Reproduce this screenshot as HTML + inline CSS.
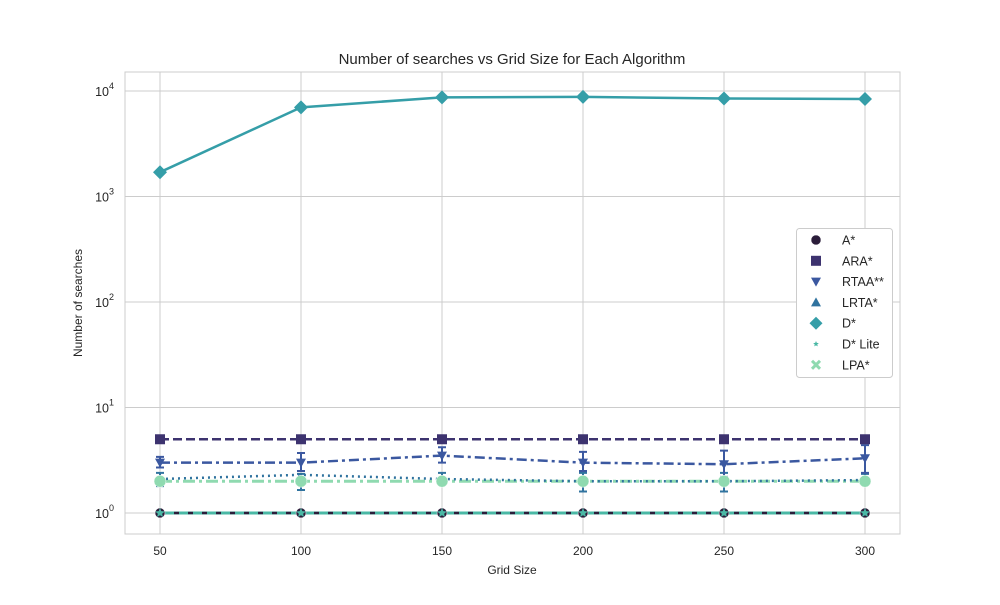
<!DOCTYPE html>
<html><head><meta charset="utf-8"><style>
body{margin:0;background:#fff;font-family:"Liberation Sans","DejaVu Sans",sans-serif}
svg text{font-family:"Liberation Sans","DejaVu Sans",sans-serif;fill:#262626}
</style></head><body>
<svg id="c" width="1000" height="600"></svg>
<script>
const gridSizes=[50,100,150,200,250,300];
const seriesNames=["A*","ARA*","RTAA**","LRTA*","D*","D* Lite","LPA*"];
const aStar=[1,1,1,1,1,1];
const araStar=[5,5,5,5,5,5];
const rtaa=[3,3,3.5,3,2.9,3.3];
const rtaaLo=[2.7,2.5,3.0,2.5,2.2,2.4];
const rtaaHi=[3.4,3.7,4.2,3.8,3.9,4.4];
const lrta=[2.1,2.3,2.1,2.0,2.0,2.05];
const lrtaLo=[1.8,1.65,1.85,1.6,1.6,1.85];
const lrtaHi=[2.4,2.35,2.4,2.4,2.4,2.35];
const dStar=[1700,7000,8700,8800,8500,8400];
const dLite=[1,1,1,1,1,1];
const lpa=[2,2,2,2,2,2];
const yTicks=[1,10,100,1000,10000];
const yTickLabels=["0","1","2","3","4"];

const svg=document.getElementById('c');
const NS='http://www.w3.org/2000/svg';
function mk(t,a,p){const e=document.createElementNS(NS,t);for(const k in a)e.setAttribute(k,a[k]);(p||svg).appendChild(e);return e;}
const L=125,R=900,T=72,B=534;
const xs=v=>160+(v-50)*(705/250);
const ys=v=>513-Math.log10(v)*105.5;

mk('rect',{x:L,y:T,width:R-L,height:B-T,fill:'#fff',stroke:'#ccc','stroke-width':1});
for(const v of gridSizes){
 const g=mk('line',{x1:xs(v),x2:xs(v),y1:T,y2:B,stroke:'#ccc','stroke-width':1});
 
 
 const t=mk('text',{x:xs(v),y:555,'text-anchor':'middle','font-size':12});t.textContent=v;
 
 
}
yTicks.forEach((v,i)=>{
 const g=mk('line',{x1:L,x2:R,y1:ys(v),y2:ys(v),stroke:'#ccc','stroke-width':1});
 
 
 const t=mk('text',{x:114,y:ys(v)+5,'text-anchor':'end','font-size':12.5});
 t.innerHTML='10<tspan dy="-7" font-size="9">'+yTickLabels[i]+'</tspan>';
 
 
});
let t=mk('text',{x:512,y:64,'text-anchor':'middle','font-size':15});t.textContent='Number of searches vs Grid Size for Each Algorithm';

t=mk('text',{x:512,y:574,'text-anchor':'middle','font-size':12});t.textContent='Grid Size';

t=mk('text',{x:82,y:303,'text-anchor':'middle','font-size':12,transform:'rotate(-90 82 303)'});t.textContent='Number of searches';


function line(vals,color,dash,w,name){
 const p=mk('polyline',{points:vals.map((v,i)=>xs(gridSizes[i])+','+ys(v)).join(' '),fill:'none',stroke:color,'stroke-width':w,'stroke-dasharray':dash});
 
 
}
function errs(lo,hi,color,name){
 lo.forEach((l,i)=>{const x=xs(gridSizes[i]);
  const g=mk('path',{d:`M${x},${ys(l)}V${ys(hi[i])}M${x-4},${ys(l)}h8M${x-4},${ys(hi[i])}h8`,stroke:color,'stroke-width':2,fill:'none'});
  
  
 });
}
function starPath(x,y,s){let d='';for(let k=0;k<10;k++){const r=k%2?s*0.45:s;const a=-Math.PI/2+k*Math.PI/5;d+=(k?'L':'M')+(x+r*Math.cos(a)).toFixed(2)+','+(y+r*Math.sin(a)).toFixed(2);}return d+'Z';}
function marker(type,x,y,c,s){
 let e;
 if(type==='o')e=mk('circle',{cx:x,cy:y,r:s,fill:c,stroke:'#fff','stroke-width':0.5});
 else if(type==='s')e=mk('rect',{x:x-s,y:y-s,width:2*s,height:2*s,fill:c});
 else if(type==='v')e=mk('path',{d:`M${x-s},${y-s*0.8}L${x+s},${y-s*0.8}L${x},${y+s}Z`,fill:c});
 else if(type==='^')e=mk('path',{d:`M${x-s},${y+s*0.8}L${x+s},${y+s*0.8}L${x},${y-s}Z`,fill:c});
 else if(type==='D')e=mk('path',{d:`M${x},${y-s}L${x+s},${y}L${x},${y+s}L${x-s},${y}Z`,fill:c});
 else if(type==='*')e=mk('path',{d:starPath(x,y,s),fill:c});
 else if(type==='x')e=mk('path',{d:`M${x-s},${y-s}L${x+s},${y+s}M${x+s},${y-s}L${x-s},${y+s}`,stroke:c,'stroke-width':3});
 return e;
}
const cols=['#2b1d3a','#3d336f','#3b58a0','#30739f','#359ea8','#4ab8a5','#8fdab0'];
line(dLite,cols[5],'',3,'dstar-lite-line');
line(aStar,cols[0],'5 9',2.5,'astar-line');
line(araStar,cols[1],'9 4',2.5,'arastar-line');
line(lpa,cols[6],'12 4 3 4',3,'lpa-line');
errs(lrtaLo,lrtaHi,cols[3],'lrta-error-bar');
line(lrta,cols[3],'2 4',2.5,'lrta-line');
errs(rtaaLo,rtaaHi,cols[2],'rtaa-error-bar');
line(rtaa,cols[2],'10 4 3 4',2.5,'rtaa-line');
line(dStar,cols[4],'',2.5,'dstar-line');
gridSizes.forEach((g,i)=>{const x=xs(g);
 let m;
 m=marker('o',x,ys(aStar[i]),cols[0],5);
 m=marker('*',x,ys(dLite[i]),cols[5],5);
 m=marker('s',x,ys(araStar[i]),cols[1],5);
 m=marker('o',x,ys(lpa[i]),cols[6],6);
 m=marker('v',x,ys(rtaa[i]),cols[2],5);
 m=marker('D',x,ys(dStar[i]),cols[4],7);
});
const lg=mk('g',{});

mk('rect',{x:796.5,y:228.5,width:96,height:149,rx:3,fill:'#fff',stroke:'#ccc'},lg);
const types=['o','s','v','^','D','*','x'];
seriesNames.forEach((n,i)=>{const y=240+i*20.8;
 const m=marker(types[i],816,y,cols[i],types[i]==='*'?3:types[i]==='x'?4:types[i]==='D'?6.5:5);lg.appendChild(m);
 const tt=mk('text',{x:842,y:y+4.5,'font-size':12.5},lg);tt.textContent=n;
 
 
});
</script>
</body></html>
